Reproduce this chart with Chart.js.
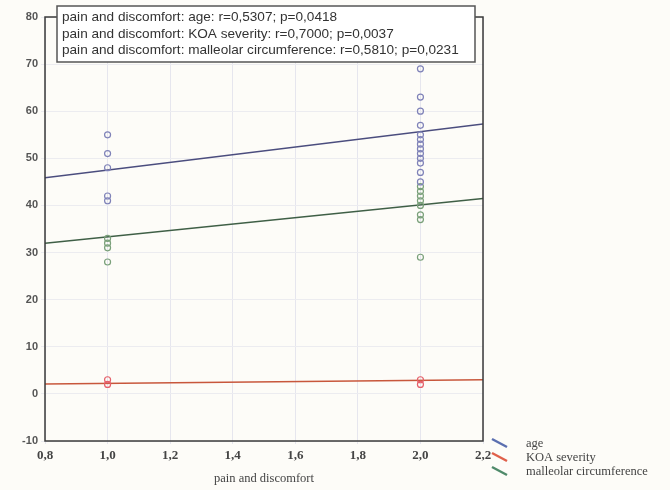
<!DOCTYPE html>
<html>
<head>
<meta charset="utf-8">
<script src="https://cdn.jsdelivr.net/npm/chart.js@4/dist/chart.umd.min.js"></script>
<style>
  html, body { margin: 0; padding: 0; background: #fdfcf8; }
  #wrap { width: 670px; height: 490px; position: relative; }
</style>
</head>
<body>
<div id="wrap"><canvas id="c" width="670" height="490"></canvas></div>
<script>
// ---- data ----
const ageX1 = [55, 51, 48, 42, 41];
const ageX2 = [69, 63, 60, 57, 55, 54, 53, 52, 51, 50, 49, 47, 45];
const koaX1 = [2, 3];
const koaX2 = [2, 3];
const malX1 = [33, 32, 31, 28];
const malX2 = [44, 43, 42, 41, 40, 38, 37, 29];
const fitX = [0.8, 2.2];
const ageFit = [45.9, 57.3];
const koaFit = [2.1, 3.0];
const malFit = [32.0, 41.5];
const xTicks = [0.8, 1.0, 1.2, 1.4, 1.6, 1.8, 2.0, 2.2];
const yTicks = [-10, 0, 10, 20, 30, 40, 50, 60, 70, 80];
const statLines = [
  'pain and discomfort: age: r=0,5307; p=0,0418',
  'pain and discomfort: KOA severity: r=0,7000; p=0,0037',
  'pain and discomfort: malleolar circumference: r=0,5810; p=0,0231'
];
const seriesNames = ['age', 'KOA severity', 'malleolar circumference'];
const xTitle = 'pain and discomfort';

const colAgePt = '#7f82b8', colAgeLn = '#4b4d7e';
const colKoaPt = '#e5606a', colKoaLn = '#c8573c';
const colMalPt = '#7aa07a', colMalLn = '#3f5f46';

function pts(x, arr) { return arr.map(v => ({ x: x, y: v })); }
function line(xs, ys) { return xs.map((x, i) => ({ x: x, y: ys[i] })); }

const ptStyle = (c) => ({ type: 'scatter', pointStyle: 'circle', pointRadius: 3, borderWidth: 1.2,
  borderColor: c, backgroundColor: 'rgba(255,255,255,0)', showLine: false });
const lnStyle = (c) => ({ type: 'line', borderColor: c, borderWidth: 1.5, pointRadius: 0, fill: false });

const datasets = [
  Object.assign({ label: 'age', data: pts(1.0, ageX1).concat(pts(2.0, ageX2)) }, ptStyle(colAgePt)),
  Object.assign({ label: 'mal', data: pts(1.0, malX1).concat(pts(2.0, malX2)) }, ptStyle(colMalPt)),
  Object.assign({ label: 'koa', data: pts(1.0, koaX1).concat(pts(2.0, koaX2)) }, ptStyle(colKoaPt)),
  Object.assign({ label: 'ageFit', data: line(fitX, ageFit) }, lnStyle(colAgeLn)),
  Object.assign({ label: 'malFit', data: line(fitX, malFit) }, lnStyle(colMalLn)),
  Object.assign({ label: 'koaFit', data: line(fitX, koaFit) }, lnStyle(colKoaLn))
];

const frame = {
  id: 'frame',
  afterDatasetsDraw(chart) {
    const { ctx, chartArea: a } = chart;
    ctx.save();
    ctx.strokeStyle = '#3a3a3a';
    ctx.lineWidth = 1.5;
    ctx.strokeRect(a.left, a.top, a.right - a.left, a.bottom - a.top);
    // stats box
    ctx.font = '13.6px "Liberation Sans", Arial, sans-serif';
    ctx.fillStyle = '#fff';
    ctx.strokeStyle = '#555';
    ctx.lineWidth = 1.5;
    const bx = 57, by = 6, bw = 418, bh = 56;
    ctx.fillRect(bx, by, bw, bh);
    ctx.strokeRect(bx, by, bw, bh);
    ctx.fillStyle = '#333';
    ctx.textBaseline = 'middle';
    ctx.textAlign = 'left';
    statLines.forEach((t, i) => ctx.fillText(t, bx + 5, by + 11.5 + i * 16.5));
    // series legend
    const lcols = ['#5b6fb0', '#e0604a', '#4f8a6a'];
    ctx.font = '12.5px "Liberation Serif", "DejaVu Serif", serif';
    seriesNames.forEach((n, i) => {
      const y = 444 + i * 14;
      ctx.strokeStyle = lcols[i];
      ctx.lineWidth = 2.5;
      ctx.beginPath();
      ctx.moveTo(492, y - 5);
      ctx.lineTo(507, y + 3);
      ctx.stroke();
      ctx.fillStyle = '#444';
      ctx.fillText(n, 526, y);
    });
    ctx.restore();
  }
};

new Chart(document.getElementById('c'), {
  data: { datasets },
  options: {
    responsive: false,
    animation: false,
    layout: { padding: { top: 17, right: 187, left: 0, bottom: 0 } },
    plugins: { legend: { display: false }, tooltip: { enabled: false } },
    scales: {
      x: {
        type: 'linear', min: 0.8, max: 2.2,
        afterBuildTicks: (s) => { s.ticks = xTicks.map(v => ({ value: v })); },
        afterFit: (s) => { s.height = 49; },
        grid: { color: '#e6e6ee', drawTicks: true, tickLength: 3 },
        border: { display: false },
        ticks: {
          color: '#444', padding: 4,
          font: { family: '"Liberation Serif", "DejaVu Serif", serif', size: 13, weight: 'bold' },
          callback: (v) => Number(v).toFixed(1).replace('.', ',')
        },
        title: { display: true, text: xTitle, color: '#444', padding: { top: 3 },
          font: { family: '"Liberation Serif", "DejaVu Serif", serif', size: 12.5 } }
      },
      y: {
        type: 'linear', min: -10, max: 80,
        afterBuildTicks: (s) => { s.ticks = yTicks.map(v => ({ value: v })); },
        afterFit: (s) => { s.width = 45; },
        grid: { color: '#ececf0', drawTicks: true, tickLength: 4 },
        border: { display: false },
        ticks: {
          color: '#555', padding: 3,
          font: { family: '"Liberation Sans", Arial, sans-serif', size: 11, weight: 'bold' }
        }
      }
    }
  },
  plugins: [frame]
});
</script>
</body>
</html>
